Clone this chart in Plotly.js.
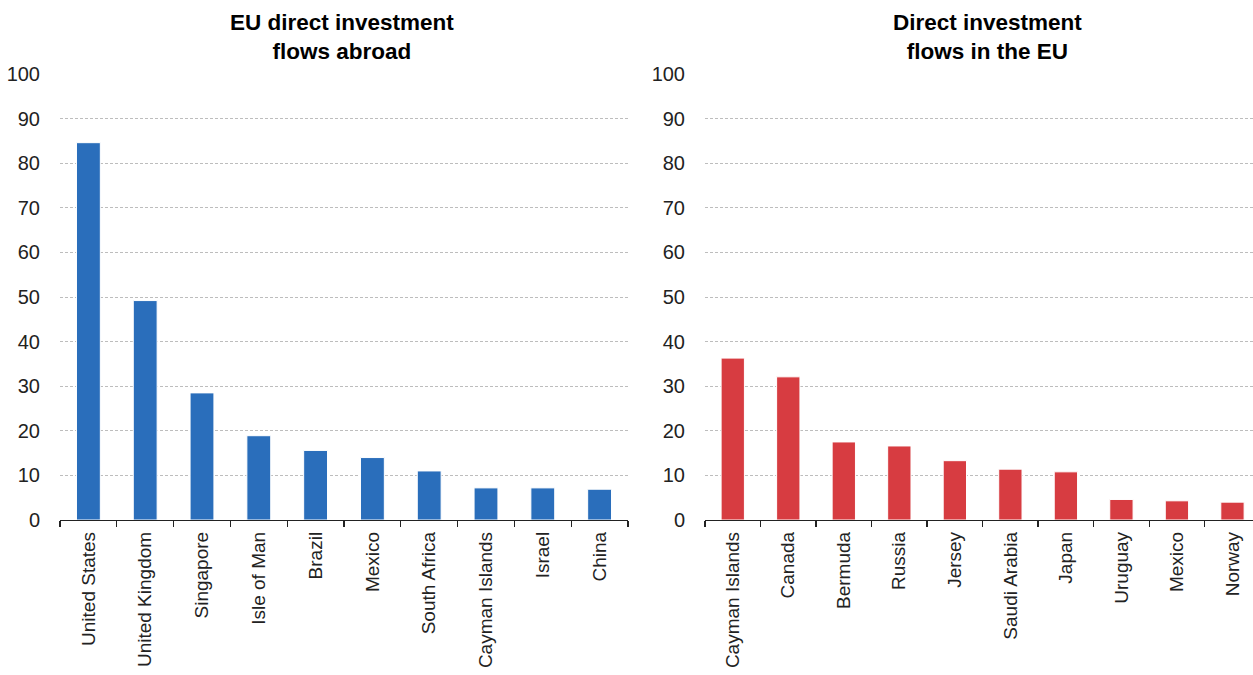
<!DOCTYPE html>
<html>
<head>
<meta charset="utf-8">
<script src="https://cdn.plot.ly/plotly-3.0.1.min.js"></script>
<style>html,body{margin:0;padding:0;background:#fff;}#chart{width:1253px;height:675px;}</style>
</head>
<body>
<div id="chart"></div>
<script>
var abroadCountries = ["United States","United Kingdom","Singapore","Isle of Man","Brazil","Mexico","South Africa","Cayman Islands","Israel","China"];
var abroadValues = [84.6, 49.2, 28.5, 18.9, 15.6, 14.0, 11.0, 7.2, 7.2, 6.9];
var inEUCountries = ["Cayman Islands","Canada","Bermuda","Russia","Jersey","Saudi Arabia","Japan","Uruguay","Mexico","Norway"];
var inEUValues = [36.3, 32.1, 17.5, 16.6, 13.3, 11.4, 10.8, 4.6, 4.3, 4.0];
var yTicks = [0,10,20,30,40,50,60,70,80,90,100];
var titles = ["EU direct investment<br>flows abroad", "Direct investment<br>flows in the EU"];

var FONT = "Liberation Sans, Arial, sans-serif";
var traces = [
  {type:"bar", x:abroadCountries, y:abroadValues, xaxis:"x", yaxis:"y",
   marker:{color:"#2a6ebb", line:{color:"#ffffff", width:1}}, width:0.42, hoverinfo:"x+y"},
  {type:"bar", x:inEUCountries, y:inEUValues, xaxis:"x2", yaxis:"y2",
   marker:{color:"#d73c41", line:{color:"#ffffff", width:1}}, width:0.42, hoverinfo:"x+y"}
];

function xax(domain, anchor, range){
  return {domain:domain, anchor:anchor, type:"category", range:range,
    showline:true, linecolor:"#222", linewidth:1.3,
    ticks:"outside", tickson:"boundaries", ticklen:6, tickcolor:"#222", tickwidth:1.3,
    ticklabelstandoff:3,
    tickangle:-90, tickfont:{family:FONT, size:19, color:"#222"},
    showgrid:false, zeroline:false, fixedrange:true};
}
function yax(domain, anchor){
  return {domain:domain, anchor:anchor, range:[0,100], tickvals:yTicks,
    ticks:"outside", ticklen:15, tickcolor:"rgba(0,0,0,0)",
    tickfont:{family:FONT, size:20, color:"#222"},
    showgrid:true, gridcolor:"#bdbdbd", griddash:"3px,2px", gridwidth:1,
    zeroline:false, showline:false, fixedrange:true};
}

var yDom = [(675-520)/675, (675-74)/675];
var layout = {
  width:1253, height:675,
  margin:{l:0, r:0, t:0, b:0},
  paper_bgcolor:"#fff", plot_bgcolor:"#fff",
  showlegend:false,
  xaxis: xax([60/1253, 628/1253], "y", [-0.5, 9.5]),
  yaxis: yax(yDom, "x"),
  xaxis2: xax([705/1253, 1], "y2", [-0.5, 9.37]),
  yaxis2: yax(yDom, "x2"),
  annotations:[
    {text:"<b>"+titles[0]+"</b>", xref:"paper", yref:"paper", x:342/1253, y:1-8/675,
     xanchor:"center", yanchor:"top", showarrow:false, align:"center",
     font:{family:FONT, size:22.5, color:"#000"}},
    {text:"<b>"+titles[1]+"</b>", xref:"paper", yref:"paper", x:987/1253, y:1-8/675,
     xanchor:"center", yanchor:"top", showarrow:false, align:"center",
     font:{family:FONT, size:22.5, color:"#000"}}
  ]
};
Plotly.newPlot("chart", traces, layout, {staticPlot:true, displayModeBar:false});
</script>
</body>
</html>
